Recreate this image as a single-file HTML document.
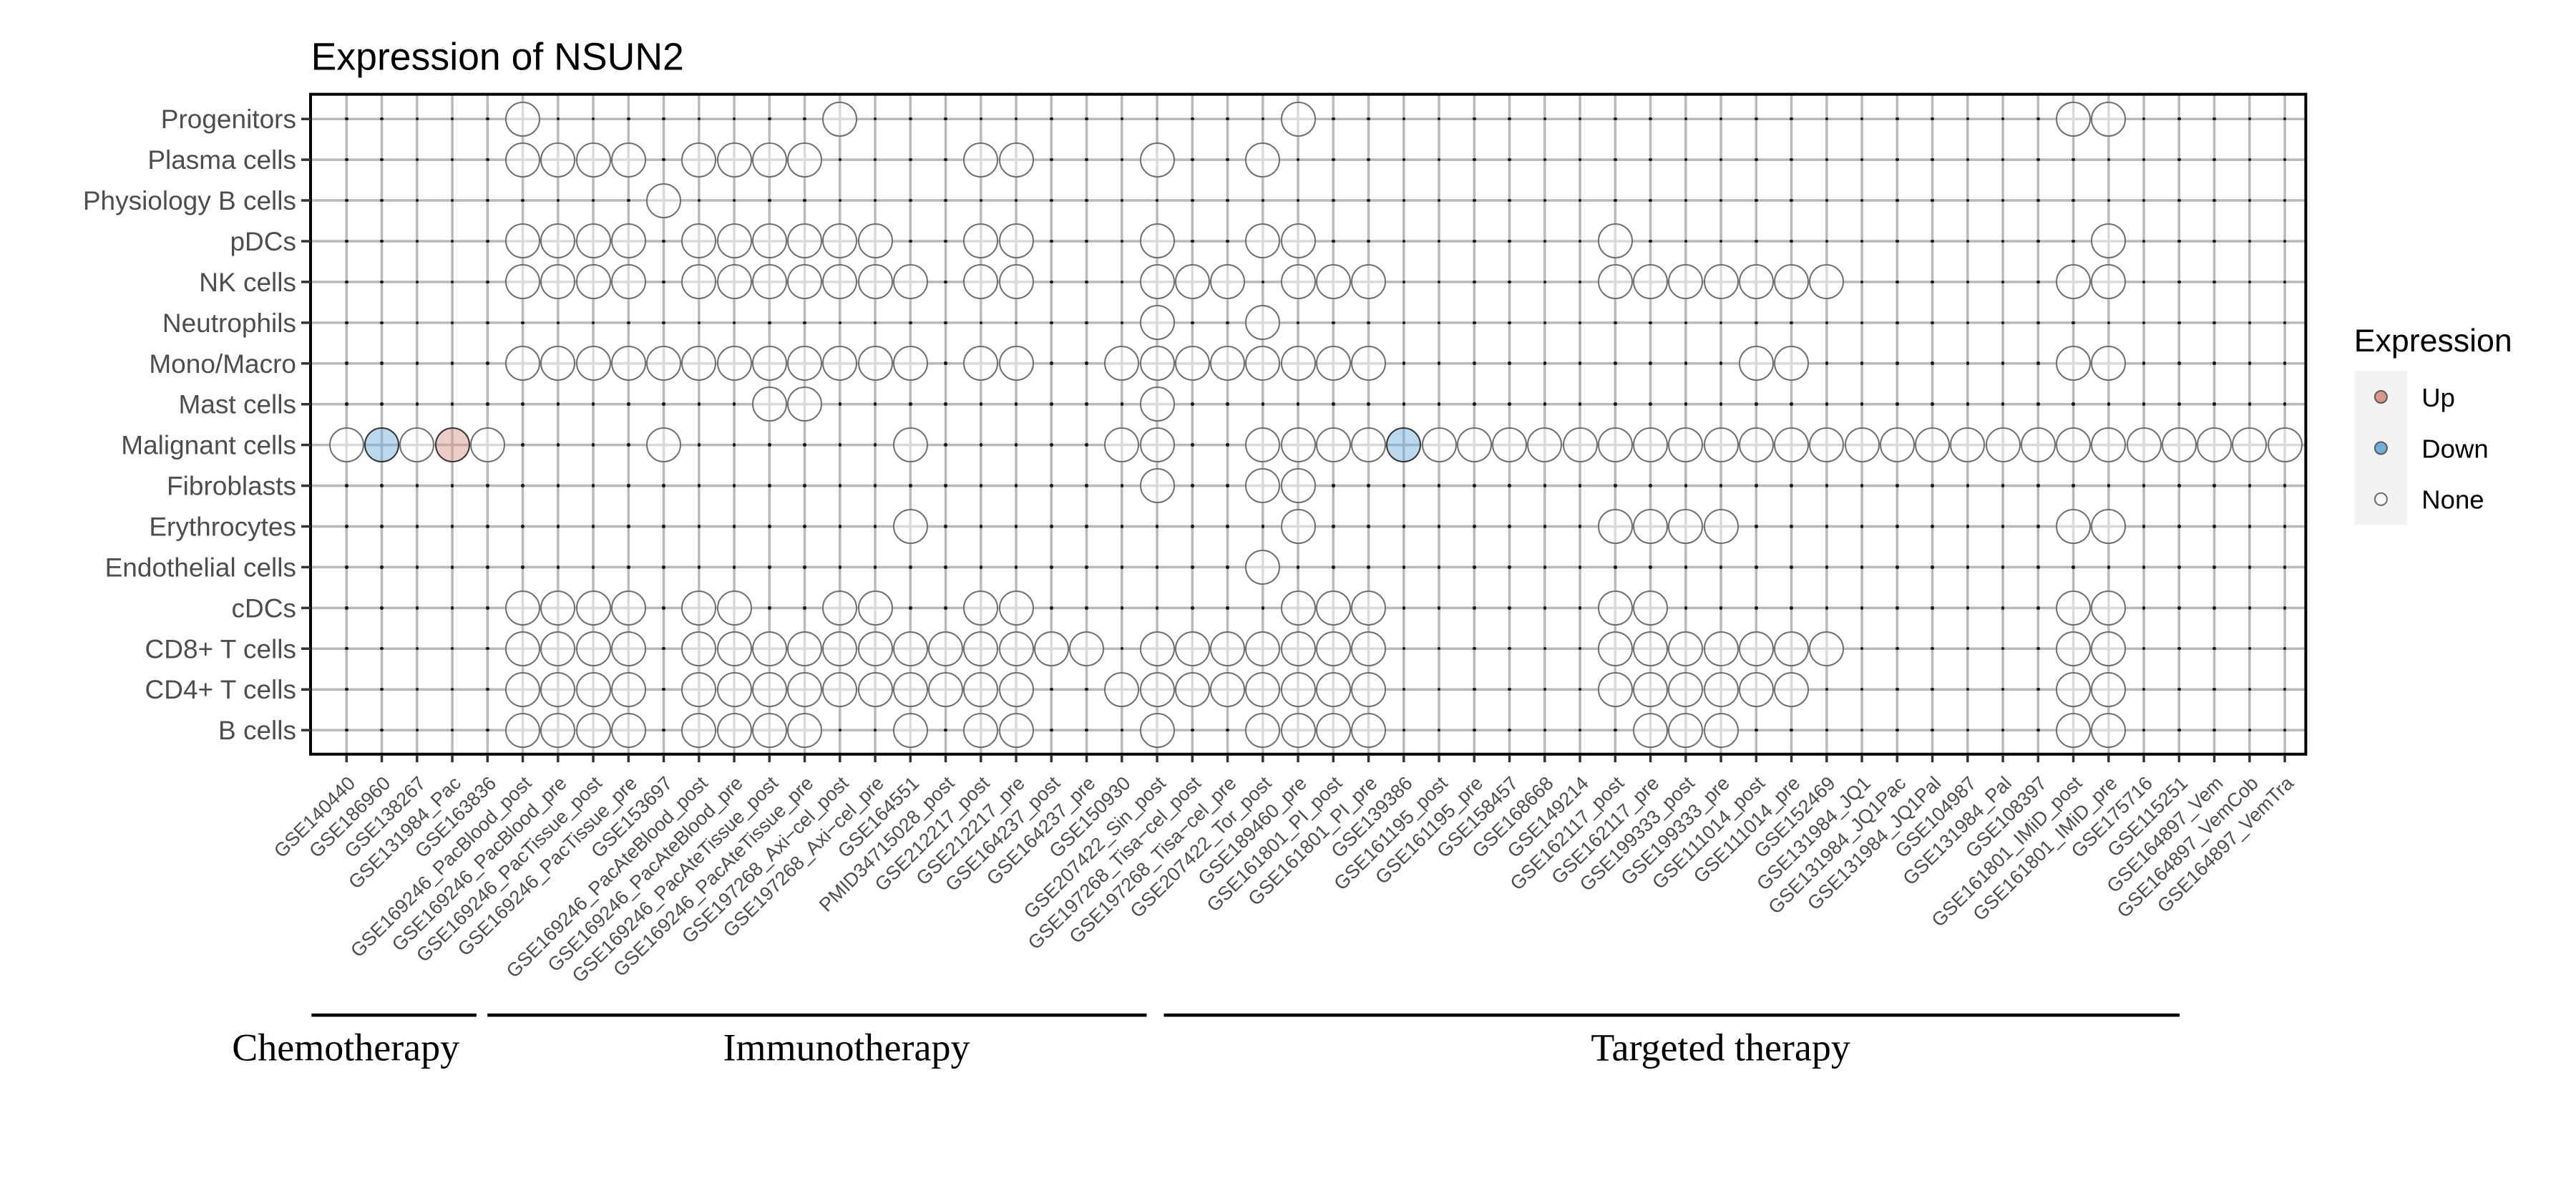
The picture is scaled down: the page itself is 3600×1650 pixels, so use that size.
<!DOCTYPE html>
<html>
<head>
<meta charset="utf-8">
<style>
html,body{margin:0;padding:0;background:#fff;}
body{width:3600px;height:1650px;position:relative;overflow:hidden;}
svg{position:absolute;left:0;top:0;}
.g{position:absolute;left:459.675px;top:137.735px;display:grid;grid-template-columns:repeat(56,49.25px);grid-template-rows:repeat(16,56.93px);}
.g>*{position:relative;display:block;text-decoration:none;}
.g>*::after{content:"";position:absolute;left:50%;top:50%;box-sizing:border-box;border-radius:50%;}
.g>i::after{width:4.5px;height:4.5px;margin:-2.25px 0 0 -2.25px;background:#1a1a1a;}
.g>b::after,.g>u::after,.g>s::after{width:49px;height:49px;margin:-24.5px 0 0 -24.5px;border:2.5px solid #6e6e6e;background:rgba(255,255,255,.47);}
.g>u::after{border-color:#333;background:rgba(217,149,140,.47);}
.g>s::after{border-color:#333;background:rgba(110,175,215,.47);}
.sans{font-family:"Liberation Sans",Arial,sans-serif;}
.serif{font-family:"Liberation Serif","Times New Roman",serif;}
</style>
</head>
<body>
<svg width="3600" height="1650" viewBox="0 0 3600 1650">
<path fill="none" stroke="#b9b9b9" stroke-width="3.5" d="M484.3 131.7V1053.7M533.55 131.7V1053.7M582.8 131.7V1053.7M632.05 131.7V1053.7M681.3 131.7V1053.7M730.55 131.7V1053.7M779.8 131.7V1053.7M829.05 131.7V1053.7M878.3 131.7V1053.7M927.55 131.7V1053.7M976.8 131.7V1053.7M1026.05 131.7V1053.7M1075.3 131.7V1053.7M1124.55 131.7V1053.7M1173.8 131.7V1053.7M1223.05 131.7V1053.7M1272.3 131.7V1053.7M1321.55 131.7V1053.7M1370.8 131.7V1053.7M1420.05 131.7V1053.7M1469.3 131.7V1053.7M1518.55 131.7V1053.7M1567.8 131.7V1053.7M1617.05 131.7V1053.7M1666.3 131.7V1053.7M1715.55 131.7V1053.7M1764.8 131.7V1053.7M1814.05 131.7V1053.7M1863.3 131.7V1053.7M1912.55 131.7V1053.7M1961.8 131.7V1053.7M2011.05 131.7V1053.7M2060.3 131.7V1053.7M2109.55 131.7V1053.7M2158.8 131.7V1053.7M2208.05 131.7V1053.7M2257.3 131.7V1053.7M2306.55 131.7V1053.7M2355.8 131.7V1053.7M2405.05 131.7V1053.7M2454.3 131.7V1053.7M2503.55 131.7V1053.7M2552.8 131.7V1053.7M2602.05 131.7V1053.7M2651.3 131.7V1053.7M2700.55 131.7V1053.7M2749.8 131.7V1053.7M2799.05 131.7V1053.7M2848.3 131.7V1053.7M2897.55 131.7V1053.7M2946.8 131.7V1053.7M2996.05 131.7V1053.7M3045.3 131.7V1053.7M3094.55 131.7V1053.7M3143.8 131.7V1053.7M3193.05 131.7V1053.7"/>
<path fill="none" stroke="#b9b9b9" stroke-width="3.5" d="M434 166.2H3222.4M434 223.13H3222.4M434 280.06H3222.4M434 336.99H3222.4M434 393.92H3222.4M434 450.85H3222.4M434 507.78H3222.4M434 564.71H3222.4M434 621.64H3222.4M434 678.57H3222.4M434 735.5H3222.4M434 792.43H3222.4M434 849.36H3222.4M434 906.29H3222.4M434 963.22H3222.4M434 1020.15H3222.4"/>
</svg>

<div class="g">
<!-- r0 Progenitors -->
<i></i><i></i><i></i><i></i><i></i><b></b><i></i><i></i><i></i><i></i>
<i></i><i></i><i></i><i></i><b></b><i></i><i></i><i></i><i></i><i></i>
<i></i><i></i><i></i><i></i><i></i><i></i><i></i><b></b><i></i><i></i>
<i></i><i></i><i></i><i></i><i></i><i></i><i></i><i></i><i></i><i></i>
<i></i><i></i><i></i><i></i><i></i><i></i><i></i><i></i><i></i><b></b>
<b></b><i></i><i></i><i></i><i></i><i></i>
<!-- r1 Plasma cells -->
<i></i><i></i><i></i><i></i><i></i><b></b><b></b><b></b><b></b><i></i>
<b></b><b></b><b></b><b></b><i></i><i></i><i></i><i></i><b></b><b></b>
<i></i><i></i><i></i><b></b><i></i><i></i><b></b><i></i><i></i><i></i>
<i></i><i></i><i></i><i></i><i></i><i></i><i></i><i></i><i></i><i></i>
<i></i><i></i><i></i><i></i><i></i><i></i><i></i><i></i><i></i><i></i>
<i></i><i></i><i></i><i></i><i></i><i></i>
<!-- r2 Physiology B cells -->
<i></i><i></i><i></i><i></i><i></i><i></i><i></i><i></i><i></i><b></b>
<i></i><i></i><i></i><i></i><i></i><i></i><i></i><i></i><i></i><i></i>
<i></i><i></i><i></i><i></i><i></i><i></i><i></i><i></i><i></i><i></i>
<i></i><i></i><i></i><i></i><i></i><i></i><i></i><i></i><i></i><i></i>
<i></i><i></i><i></i><i></i><i></i><i></i><i></i><i></i><i></i><i></i>
<i></i><i></i><i></i><i></i><i></i><i></i>
<!-- r3 pDCs -->
<i></i><i></i><i></i><i></i><i></i><b></b><b></b><b></b><b></b><i></i>
<b></b><b></b><b></b><b></b><b></b><b></b><i></i><i></i><b></b><b></b>
<i></i><i></i><i></i><b></b><i></i><i></i><b></b><b></b><i></i><i></i>
<i></i><i></i><i></i><i></i><i></i><i></i><b></b><i></i><i></i><i></i>
<i></i><i></i><i></i><i></i><i></i><i></i><i></i><i></i><i></i><i></i>
<b></b><i></i><i></i><i></i><i></i><i></i>
<!-- r4 NK cells -->
<i></i><i></i><i></i><i></i><i></i><b></b><b></b><b></b><b></b><i></i>
<b></b><b></b><b></b><b></b><b></b><b></b><b></b><i></i><b></b><b></b>
<i></i><i></i><i></i><b></b><b></b><b></b><i></i><b></b><b></b><b></b>
<i></i><i></i><i></i><i></i><i></i><i></i><b></b><b></b><b></b><b></b>
<b></b><b></b><b></b><i></i><i></i><i></i><i></i><i></i><i></i><b></b>
<b></b><i></i><i></i><i></i><i></i><i></i>
<!-- r5 Neutrophils -->
<i></i><i></i><i></i><i></i><i></i><i></i><i></i><i></i><i></i><i></i>
<i></i><i></i><i></i><i></i><i></i><i></i><i></i><i></i><i></i><i></i>
<i></i><i></i><i></i><b></b><i></i><i></i><b></b><i></i><i></i><i></i>
<i></i><i></i><i></i><i></i><i></i><i></i><i></i><i></i><i></i><i></i>
<i></i><i></i><i></i><i></i><i></i><i></i><i></i><i></i><i></i><i></i>
<i></i><i></i><i></i><i></i><i></i><i></i>
<!-- r6 Mono/Macro -->
<i></i><i></i><i></i><i></i><i></i><b></b><b></b><b></b><b></b><b></b>
<b></b><b></b><b></b><b></b><b></b><b></b><b></b><i></i><b></b><b></b>
<i></i><i></i><b></b><b></b><b></b><b></b><b></b><b></b><b></b><b></b>
<i></i><i></i><i></i><i></i><i></i><i></i><i></i><i></i><i></i><i></i>
<b></b><b></b><i></i><i></i><i></i><i></i><i></i><i></i><i></i><b></b>
<b></b><i></i><i></i><i></i><i></i><i></i>
<!-- r7 Mast cells -->
<i></i><i></i><i></i><i></i><i></i><i></i><i></i><i></i><i></i><i></i>
<i></i><i></i><b></b><b></b><i></i><i></i><i></i><i></i><i></i><i></i>
<i></i><i></i><i></i><b></b><i></i><i></i><i></i><i></i><i></i><i></i>
<i></i><i></i><i></i><i></i><i></i><i></i><i></i><i></i><i></i><i></i>
<i></i><i></i><i></i><i></i><i></i><i></i><i></i><i></i><i></i><i></i>
<i></i><i></i><i></i><i></i><i></i><i></i>
<!-- r8 Malignant cells -->
<b></b><s></s><b></b><u></u><b></b><i></i><i></i><i></i><i></i><b></b>
<i></i><i></i><i></i><i></i><i></i><i></i><b></b><i></i><i></i><i></i>
<i></i><i></i><b></b><b></b><i></i><i></i><b></b><b></b><b></b><b></b>
<s></s><b></b><b></b><b></b><b></b><b></b><b></b><b></b><b></b><b></b>
<b></b><b></b><b></b><b></b><b></b><b></b><b></b><b></b><b></b><b></b>
<b></b><b></b><b></b><b></b><b></b><b></b>
<!-- r9 Fibroblasts -->
<i></i><i></i><i></i><i></i><i></i><i></i><i></i><i></i><i></i><i></i>
<i></i><i></i><i></i><i></i><i></i><i></i><i></i><i></i><i></i><i></i>
<i></i><i></i><i></i><b></b><i></i><i></i><b></b><b></b><i></i><i></i>
<i></i><i></i><i></i><i></i><i></i><i></i><i></i><i></i><i></i><i></i>
<i></i><i></i><i></i><i></i><i></i><i></i><i></i><i></i><i></i><i></i>
<i></i><i></i><i></i><i></i><i></i><i></i>
<!-- r10 Erythrocytes -->
<i></i><i></i><i></i><i></i><i></i><i></i><i></i><i></i><i></i><i></i>
<i></i><i></i><i></i><i></i><i></i><i></i><b></b><i></i><i></i><i></i>
<i></i><i></i><i></i><i></i><i></i><i></i><i></i><b></b><i></i><i></i>
<i></i><i></i><i></i><i></i><i></i><i></i><b></b><b></b><b></b><b></b>
<i></i><i></i><i></i><i></i><i></i><i></i><i></i><i></i><i></i><b></b>
<b></b><i></i><i></i><i></i><i></i><i></i>
<!-- r11 Endothelial cells -->
<i></i><i></i><i></i><i></i><i></i><i></i><i></i><i></i><i></i><i></i>
<i></i><i></i><i></i><i></i><i></i><i></i><i></i><i></i><i></i><i></i>
<i></i><i></i><i></i><i></i><i></i><i></i><b></b><i></i><i></i><i></i>
<i></i><i></i><i></i><i></i><i></i><i></i><i></i><i></i><i></i><i></i>
<i></i><i></i><i></i><i></i><i></i><i></i><i></i><i></i><i></i><i></i>
<i></i><i></i><i></i><i></i><i></i><i></i>
<!-- r12 cDCs -->
<i></i><i></i><i></i><i></i><i></i><b></b><b></b><b></b><b></b><i></i>
<b></b><b></b><i></i><i></i><b></b><b></b><i></i><i></i><b></b><b></b>
<i></i><i></i><i></i><i></i><i></i><i></i><i></i><b></b><b></b><b></b>
<i></i><i></i><i></i><i></i><i></i><i></i><b></b><b></b><i></i><i></i>
<i></i><i></i><i></i><i></i><i></i><i></i><i></i><i></i><i></i><b></b>
<b></b><i></i><i></i><i></i><i></i><i></i>
<!-- r13 CD8+ T cells -->
<i></i><i></i><i></i><i></i><i></i><b></b><b></b><b></b><b></b><i></i>
<b></b><b></b><b></b><b></b><b></b><b></b><b></b><b></b><b></b><b></b>
<b></b><b></b><i></i><b></b><b></b><b></b><b></b><b></b><b></b><b></b>
<i></i><i></i><i></i><i></i><i></i><i></i><b></b><b></b><b></b><b></b>
<b></b><b></b><b></b><i></i><i></i><i></i><i></i><i></i><i></i><b></b>
<b></b><i></i><i></i><i></i><i></i><i></i>
<!-- r14 CD4+ T cells -->
<i></i><i></i><i></i><i></i><i></i><b></b><b></b><b></b><b></b><i></i>
<b></b><b></b><b></b><b></b><b></b><b></b><b></b><b></b><b></b><b></b>
<i></i><i></i><b></b><b></b><b></b><b></b><b></b><b></b><b></b><b></b>
<i></i><i></i><i></i><i></i><i></i><i></i><b></b><b></b><b></b><b></b>
<b></b><b></b><i></i><i></i><i></i><i></i><i></i><i></i><i></i><b></b>
<b></b><i></i><i></i><i></i><i></i><i></i>
<!-- r15 B cells -->
<i></i><i></i><i></i><i></i><i></i><b></b><b></b><b></b><b></b><i></i>
<b></b><b></b><b></b><b></b><i></i><i></i><b></b><i></i><b></b><b></b>
<i></i><i></i><i></i><b></b><i></i><i></i><b></b><b></b><b></b><b></b>
<i></i><i></i><i></i><i></i><i></i><i></i><i></i><b></b><b></b><b></b>
<i></i><i></i><i></i><i></i><i></i><i></i><i></i><i></i><i></i><b></b>
<b></b><i></i><i></i><i></i><i></i><i></i>
</div>

<svg width="3600" height="1650" viewBox="0 0 3600 1650">
<rect x="434" y="131.7" width="2788.4" height="922" fill="none" stroke="#000" stroke-width="4"/>
<path fill="none" stroke="#333" stroke-width="3.5" d="M421 166.2H434M421 223.13H434M421 280.06H434M421 336.99H434M421 393.92H434M421 450.85H434M421 507.78H434M421 564.71H434M421 621.64H434M421 678.57H434M421 735.5H434M421 792.43H434M421 849.36H434M421 906.29H434M421 963.22H434M421 1020.15H434"/>
<path fill="none" stroke="#333" stroke-width="3.5" d="M484.3 1055V1065M533.55 1055V1065M582.8 1055V1065M632.05 1055V1065M681.3 1055V1065M730.55 1055V1065M779.8 1055V1065M829.05 1055V1065M878.3 1055V1065M927.55 1055V1065M976.8 1055V1065M1026.05 1055V1065M1075.3 1055V1065M1124.55 1055V1065M1173.8 1055V1065M1223.05 1055V1065M1272.3 1055V1065M1321.55 1055V1065M1370.8 1055V1065M1420.05 1055V1065M1469.3 1055V1065M1518.55 1055V1065M1567.8 1055V1065M1617.05 1055V1065M1666.3 1055V1065M1715.55 1055V1065M1764.8 1055V1065M1814.05 1055V1065M1863.3 1055V1065M1912.55 1055V1065M1961.8 1055V1065M2011.05 1055V1065M2060.3 1055V1065M2109.55 1055V1065M2158.8 1055V1065M2208.05 1055V1065M2257.3 1055V1065M2306.55 1055V1065M2355.8 1055V1065M2405.05 1055V1065M2454.3 1055V1065M2503.55 1055V1065M2552.8 1055V1065M2602.05 1055V1065M2651.3 1055V1065M2700.55 1055V1065M2749.8 1055V1065M2799.05 1055V1065M2848.3 1055V1065M2897.55 1055V1065M2946.8 1055V1065M2996.05 1055V1065M3045.3 1055V1065M3094.55 1055V1065M3143.8 1055V1065M3193.05 1055V1065"/>

<text class="sans" x="434.6" y="97.7" font-size="53.6" fill="#000">Expression of NSUN2</text>

<g class="sans" font-size="37" fill="#4d4d4d" text-anchor="end">
<text x="414" y="179.2">Progenitors</text>
<text x="414" y="236.13">Plasma cells</text>
<text x="414" y="293.06">Physiology B cells</text>
<text x="414" y="349.99">pDCs</text>
<text x="414" y="406.92">NK cells</text>
<text x="414" y="463.85">Neutrophils</text>
<text x="414" y="520.78">Mono/Macro</text>
<text x="414" y="577.71">Mast cells</text>
<text x="414" y="634.64">Malignant cells</text>
<text x="414" y="691.57">Fibroblasts</text>
<text x="414" y="748.5">Erythrocytes</text>
<text x="414" y="805.43">Endothelial cells</text>
<text x="414" y="862.36">cDCs</text>
<text x="414" y="919.29">CD8+ T cells</text>
<text x="414" y="976.22">CD4+ T cells</text>
<text x="414" y="1033.15">B cells</text>
</g>

<g class="sans" font-size="27" fill="#4d4d4d" text-anchor="end">
<text transform="translate(498,1096) rotate(-45)">GSE140440</text>
<text transform="translate(547.25,1096) rotate(-45)">GSE186960</text>
<text transform="translate(596.5,1096) rotate(-45)">GSE138267</text>
<text transform="translate(645.75,1096) rotate(-45)">GSE131984_Pac</text>
<text transform="translate(695,1096) rotate(-45)">GSE163836</text>
<text transform="translate(744.25,1096) rotate(-45)">GSE169246_PacBlood_post</text>
<text transform="translate(793.5,1096) rotate(-45)">GSE169246_PacBlood_pre</text>
<text transform="translate(842.75,1096) rotate(-45)">GSE169246_PacTissue_post</text>
<text transform="translate(892,1096) rotate(-45)">GSE169246_PacTissue_pre</text>
<text transform="translate(941.25,1096) rotate(-45)">GSE153697</text>
<text transform="translate(990.5,1096) rotate(-45)">GSE169246_PacAteBlood_post</text>
<text transform="translate(1039.75,1096) rotate(-45)">GSE169246_PacAteBlood_pre</text>
<text transform="translate(1089,1096) rotate(-45)">GSE169246_PacAteTissue_post</text>
<text transform="translate(1138.25,1096) rotate(-45)">GSE169246_PacAteTissue_pre</text>
<text transform="translate(1187.5,1096) rotate(-45)">GSE197268_Axi−cel_post</text>
<text transform="translate(1236.75,1096) rotate(-45)">GSE197268_Axi−cel_pre</text>
<text transform="translate(1286,1096) rotate(-45)">GSE164551</text>
<text transform="translate(1335.25,1096) rotate(-45)">PMID34715028_post</text>
<text transform="translate(1384.5,1096) rotate(-45)">GSE212217_post</text>
<text transform="translate(1433.75,1096) rotate(-45)">GSE212217_pre</text>
<text transform="translate(1483,1096) rotate(-45)">GSE164237_post</text>
<text transform="translate(1532.25,1096) rotate(-45)">GSE164237_pre</text>
<text transform="translate(1581.5,1096) rotate(-45)">GSE150930</text>
<text transform="translate(1630.75,1096) rotate(-45)">GSE207422_Sin_post</text>
<text transform="translate(1680,1096) rotate(-45)">GSE197268_Tisa−cel_post</text>
<text transform="translate(1729.25,1096) rotate(-45)">GSE197268_Tisa−cel_pre</text>
<text transform="translate(1778.5,1096) rotate(-45)">GSE207422_Tor_post</text>
<text transform="translate(1827.75,1096) rotate(-45)">GSE189460_pre</text>
<text transform="translate(1877,1096) rotate(-45)">GSE161801_PI_post</text>
<text transform="translate(1926.25,1096) rotate(-45)">GSE161801_PI_pre</text>
<text transform="translate(1975.5,1096) rotate(-45)">GSE139386</text>
<text transform="translate(2024.75,1096) rotate(-45)">GSE161195_post</text>
<text transform="translate(2074,1096) rotate(-45)">GSE161195_pre</text>
<text transform="translate(2123.25,1096) rotate(-45)">GSE158457</text>
<text transform="translate(2172.5,1096) rotate(-45)">GSE168668</text>
<text transform="translate(2221.75,1096) rotate(-45)">GSE149214</text>
<text transform="translate(2271,1096) rotate(-45)">GSE162117_post</text>
<text transform="translate(2320.25,1096) rotate(-45)">GSE162117_pre</text>
<text transform="translate(2369.5,1096) rotate(-45)">GSE199333_post</text>
<text transform="translate(2418.75,1096) rotate(-45)">GSE199333_pre</text>
<text transform="translate(2468,1096) rotate(-45)">GSE111014_post</text>
<text transform="translate(2517.25,1096) rotate(-45)">GSE111014_pre</text>
<text transform="translate(2566.5,1096) rotate(-45)">GSE152469</text>
<text transform="translate(2615.75,1096) rotate(-45)">GSE131984_JQ1</text>
<text transform="translate(2665,1096) rotate(-45)">GSE131984_JQ1Pac</text>
<text transform="translate(2714.25,1096) rotate(-45)">GSE131984_JQ1Pal</text>
<text transform="translate(2763.5,1096) rotate(-45)">GSE104987</text>
<text transform="translate(2812.75,1096) rotate(-45)">GSE131984_Pal</text>
<text transform="translate(2862,1096) rotate(-45)">GSE108397</text>
<text transform="translate(2911.25,1096) rotate(-45)">GSE161801_IMiD_post</text>
<text transform="translate(2960.5,1096) rotate(-45)">GSE161801_IMiD_pre</text>
<text transform="translate(3009.75,1096) rotate(-45)">GSE175716</text>
<text transform="translate(3059,1096) rotate(-45)">GSE115251</text>
<text transform="translate(3108.25,1096) rotate(-45)">GSE164897_Vem</text>
<text transform="translate(3157.5,1096) rotate(-45)">GSE164897_VemCob</text>
<text transform="translate(3206.75,1096) rotate(-45)">GSE164897_VemTra</text>
</g>

<!-- Legend -->
<text class="sans" x="3289.7" y="490.8" font-size="44.7" fill="#000">Expression</text>
<rect x="3290.9" y="518" width="72.8" height="215.3" fill="#f2f2f2"/>
<circle cx="3327.4" cy="554.5" r="8.5" fill="#da968c" stroke="#5a5a5a" stroke-width="2"/>
<circle cx="3327.4" cy="626" r="8.5" fill="#6fafd8" stroke="#5a5a5a" stroke-width="2"/>
<circle cx="3327.4" cy="697.4" r="8.5" fill="#f9f9f9" stroke="#6a6a6a" stroke-width="2"/>
<g class="sans" font-size="36.5" fill="#000">
<text x="3384.3" y="567.8">Up</text>
<text x="3384.3" y="639.3">Down</text>
<text x="3384.3" y="710.7">None</text>
</g>

<!-- Group brackets -->
<path fill="none" stroke="#000" stroke-width="4.5" d="M435.3 1418.3H665.9M681.2 1418.3H1602.5M1626.5 1418.3H3046"/>
<g class="serif" font-size="54" fill="#000" text-anchor="middle">
<text x="483.2" y="1481.7">Chemotherapy</text>
<text x="1183" y="1481.7">Immunotherapy</text>
<text x="2404.6" y="1481.7">Targeted therapy</text>
</g>
</svg>
</body>
</html>
